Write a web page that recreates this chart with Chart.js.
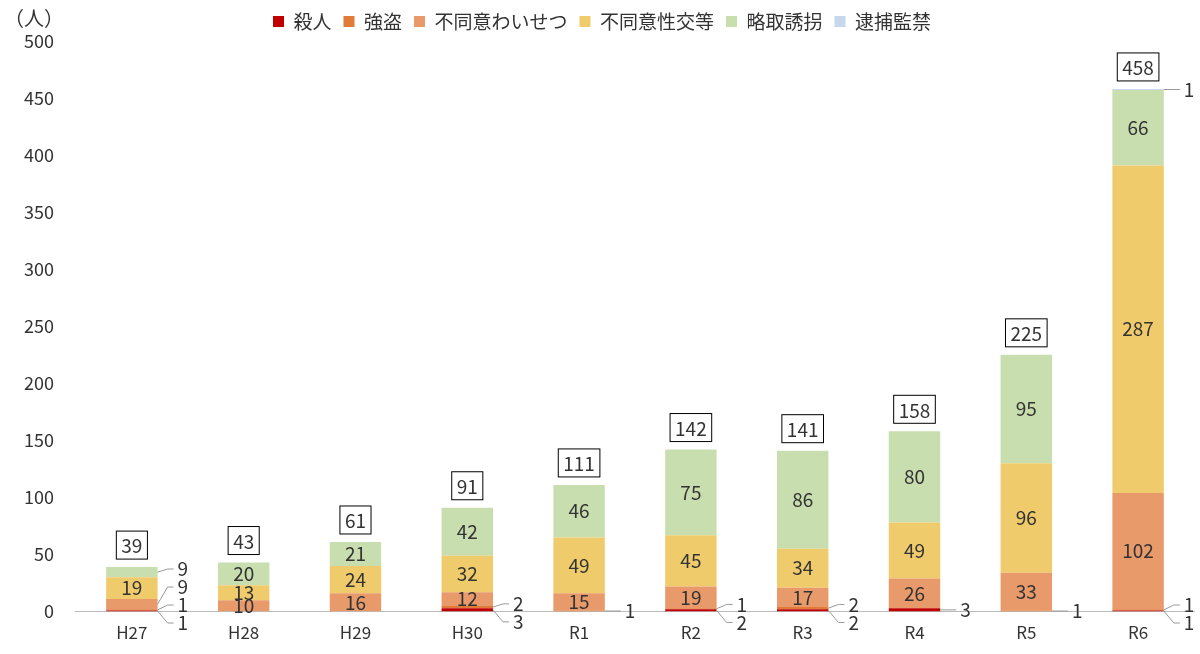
<!DOCTYPE html>
<html><head><meta charset="utf-8">
<script src="https://cdn.jsdelivr.net/npm/chart.js@4/dist/chart.umd.min.js"></script>
<style>html,body{margin:0;background:#fff}#w{width:1200px;height:654px;position:relative}</style>
</head><body><div id="w"><canvas id="c"></canvas></div>
<script>
const categories = ["H27","H28","H29","H30","R1","R2","R3","R4","R5","R6"];
const murder    = [1,0,0,3,0,2,2,3,0,1];
const robbery   = [1,0,0,2,1,1,2,0,1,1];
const indecency = [9,10,16,12,15,19,17,26,33,102];
const rape      = [19,13,24,32,49,45,34,49,96,287];
const kidnap    = [9,20,21,42,46,75,86,80,95,66];
const confine   = [0,0,0,0,0,0,0,0,0,1];
const totals    = [39,43,61,91,111,142,141,158,225,458];
const yTicks    = [0,50,100,150,200,250,300,350,400,450,500];

const F = '"Noto Sans CJK JP","Noto Sans",sans-serif';
const series = [
 ["殺人",murder,"#C00000"],["強盗",robbery,"#E07B39"],["不同意わいせつ",indecency,"#E89A6A"],
 ["不同意性交等",rape,"#F0CB6C"],["略取誘拐",kidnap,"#C8DEAE"],["逮捕監禁",confine,"#C6D7EE"]];

const labels = {
 id:'labels',
 afterDatasetsDraw(ch){
  const ctx=ch.ctx, ys=ch.scales.y;
  ctx.save(); ctx.font='19px '+F; ctx.fillStyle='#333'; ctx.textBaseline='middle';
  categories.forEach((c,i)=>{
   const smalls=[];
   ch.data.datasets.forEach((ds,d)=>{
    const v=ds.data[i]; if(!v) return;
    const el=ch.getDatasetMeta(d).data[i];
    if(v>=10){ctx.textAlign='center';ctx.fillText(v,el.x,(el.y+el.base)/2);}
    else smalls.push({v,x:el.x+el.width/2,y:(el.y+el.base)/2});
   });
   let prev=ys.getPixelForValue(0)+14;
   smalls.forEach((s,k)=>{
    let ty=Math.min(s.y,prev-18); if(k==0) ty=Math.max(s.y, ty);
    if(k==0 && smalls.length>1) ty=s.y+12;
    prev=ty;
    const tx=s.x+20;
    ctx.strokeStyle='#999';ctx.lineWidth=1;ctx.beginPath();ctx.moveTo(s.x,s.y);ctx.lineTo(tx-10,ty);ctx.lineTo(tx-4,ty);ctx.stroke();
    ctx.textAlign='left';ctx.fillText(s.v,tx,ty);
   });
   const el=ch.getDatasetMeta(0).data[i];
   const ty=ys.getPixelForValue(totals[i])-22;
   const t=String(totals[i]); const w=ctx.measureText(t).width+10;
   ctx.fillStyle='#fff';ctx.fillRect(el.x-w/2,ty-14,w,28);
   ctx.strokeStyle='#000';ctx.strokeRect(el.x-w/2,ty-14,w,28);
   ctx.fillStyle='#333';ctx.textAlign='center';ctx.fillText(t,el.x,ty+1);
  });
  ctx.textAlign='left';ctx.font='20px '+F;ctx.fillText('（人）',4,18);
  ctx.restore();
 }};

new Chart(document.getElementById('c'),{
 type:'bar',
 data:{labels:categories,datasets:series.map(s=>({label:s[0],data:s[1],backgroundColor:s[2],barPercentage:0.46,categoryPercentage:1}))},
 options:{responsive:true,maintainAspectRatio:false,animation:false,
  layout:{padding:{left:10,right:6,top:0,bottom:8}},
  plugins:{legend:{position:'top',labels:{boxWidth:11,boxHeight:11,font:{family:F,size:19},color:'#333',padding:12}},tooltip:{enabled:false}},
  scales:{
   x:{stacked:true,grid:{display:false},border:{color:'#bbb'},ticks:{font:{family:F,size:17},color:'#333'}},
   y:{stacked:true,min:0,max:500,afterBuildTicks(a){a.ticks=yTicks.map(v=>({value:v}))},grid:{display:false},border:{display:false},ticks:{font:{family:F,size:18},color:'#333',padding:14}}
  }},
 plugins:[labels]
});
</script></body></html>
